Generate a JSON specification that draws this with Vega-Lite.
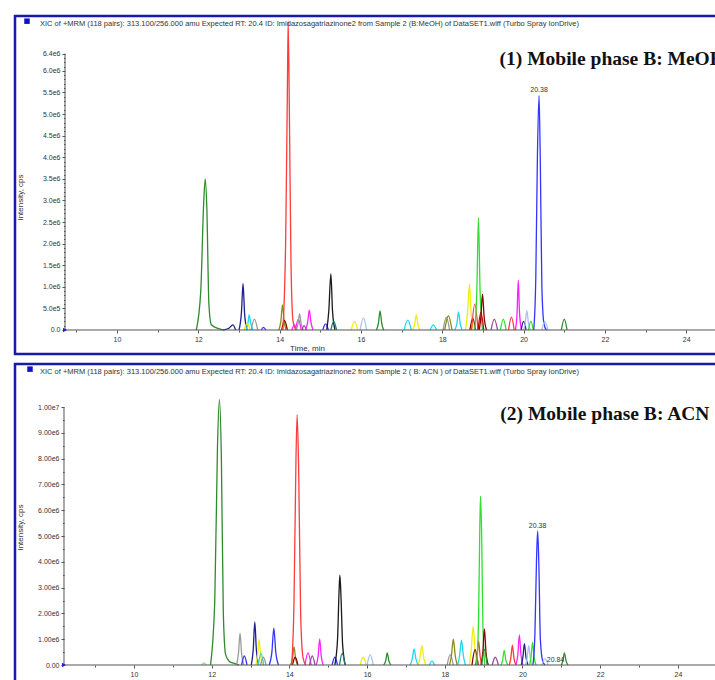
{
  "$schema": "https://vega.github.io/schema/vega-lite/v6.json",
  "background": "white",
  "padding": {"left": 13, "top": 14, "right": 0, "bottom": 0},
  "spacing": 6,
  "config": {
    "view": {"stroke": "#1a1aa8", "strokeWidth": 2.5},
    "axis": {"labelFont": "Liberation Sans", "labelFontSize": 7, "labelColor": "#333333", "titleFont": "Liberation Sans", "titleFontSize": 8, "titleFontWeight": "normal", "titleColor": "#333333", "tickColor": "#555555", "labelPadding": 2, "grid": false, "domain": false, "labelOverlap": false, "labelFlush": false},
    "title": {"font": "Liberation Sans", "fontSize": 7.5, "fontWeight": "normal", "color": "#333333", "anchor": "start", "frame": "group"}
  },
  "vconcat": [
    {
      "width": 720,
      "height": 338,
      "title": {"text": "XIC of +MRM (118 pairs): 313.100/256.000 amu Expected RT: 20.4 ID: Imidazosagatriazinone2 from Sample 2 (B:MeOH) of DataSET1.wiff (Turbo Spray IonDrive)", "offset": -11, "dx": 25},
      "encoding": {
        "x": {"field": "t", "type": "quantitative", "scale": {"domain": [7.491, 25.2], "nice": false, "zero": false},
          "axis": {"values": [9,10,11,12,13,14,15,16,17,18,19,20,21,22,23,24,25], "offset": -24, "title": "Time, min", "titleX": 292, "titlePadding": 2,
            "labelExpr": "datum.value % 2 == 0 && datum.value >= 10 ? datum.label : ''",
            "tickSize": {"condition": {"test": "datum.value % 2 == 0", "value": 3}, "value": 2}}},
        "y": {"field": "v", "type": "quantitative", "scale": {"domain": [-556000, 7270000], "nice": false, "zero": false},
          "axis": {"values": [0,100000,200000,300000,400000,500000,600000,700000,800000,900000,1000000,1100000,1200000,1300000,1400000,1500000,1600000,1700000,1800000,1900000,2000000,2100000,2200000,2300000,2400000,2500000,2600000,2700000,2800000,2900000,3000000,3100000,3200000,3300000,3400000,3500000,3600000,3700000,3800000,3900000,4000000,4100000,4200000,4300000,4400000,4500000,4600000,4700000,4800000,4900000,5000000,5100000,5200000,5300000,5400000,5500000,5600000,5700000,5800000,5900000,6000000,6100000,6200000,6300000,6400000],
            "offset": -50, "title": "Intensity, cps", "titleX": -41, "titleY": 181,
            "labelExpr": "datum.value == 0 ? '0.0' : datum.value == 6400000 ? '6.4e6' : datum.value % 500000 != 0 ? '' : datum.value < 1000000 ? '5.0e5' : format(datum.value / 1000000, '.1f') + 'e6'",
            "tickSize": {"condition": {"test": "datum.value % 500000 == 0 || datum.value == 6400000", "value": 3}, "value": 1.5}}}
      },
      "layer": [
        {
          "data": {"values": [
            {"k":"a01","c":"G","t":11.95,"v":0},{"k":"a01","c":"G","t":12.06,"v":900000},{"k":"a01","c":"G","t":12.13,"v":2900000},{"k":"a01","c":"G","t":12.17,"v":3500000},{"k":"a01","c":"G","t":12.21,"v":2800000},{"k":"a01","c":"G","t":12.26,"v":600000},{"k":"a01","c":"G","t":12.32,"v":120000},{"k":"a01","c":"G","t":12.5,"v":30000},{"k":"a01","c":"G","t":12.6,"v":0},
            {"k":"a02","c":"N","t":12.6,"v":0},{"k":"a02","c":"N","t":12.75,"v":40000},{"k":"a02","c":"N","t":12.85,"v":120000},{"k":"a02","c":"N","t":12.92,"v":0},
            {"k":"a03","c":"N","t":13.0,"v":0},{"k":"a03","c":"N","t":13.06,"v":400000},{"k":"a03","c":"N","t":13.1,"v":1070000},{"k":"a03","c":"N","t":13.14,"v":350000},{"k":"a03","c":"N","t":13.2,"v":0},
            {"k":"a04","c":"C","t":13.17,"v":0},{"k":"a04","c":"C","t":13.22,"v":150000},{"k":"a04","c":"C","t":13.25,"v":350000},{"k":"a04","c":"C","t":13.29,"v":150000},{"k":"a04","c":"C","t":13.34,"v":0},
            {"k":"a05","c":"Y","t":13.13,"v":0},{"k":"a05","c":"Y","t":13.2,"v":150000},{"k":"a05","c":"Y","t":13.27,"v":0},
            {"k":"a06","c":"Gy","t":13.3,"v":0},{"k":"a06","c":"Gy","t":13.38,"v":250000},{"k":"a06","c":"Gy","t":13.46,"v":0},
            {"k":"a07","c":"B","t":13.55,"v":0},{"k":"a07","c":"B","t":13.6,"v":60000},{"k":"a07","c":"B","t":13.66,"v":0},
            {"k":"a08","c":"O","t":13.98,"v":0},{"k":"a08","c":"O","t":14.03,"v":200000},{"k":"a08","c":"O","t":14.07,"v":580000},{"k":"a08","c":"O","t":14.11,"v":200000},{"k":"a08","c":"O","t":14.16,"v":0},
            {"k":"a09","c":"Br","t":14.05,"v":0},{"k":"a09","c":"Br","t":14.12,"v":220000},{"k":"a09","c":"Br","t":14.19,"v":0},
            {"k":"a10","c":"R","t":14.08,"v":0},{"k":"a10","c":"R","t":14.15,"v":2200000},{"k":"a10","c":"R","t":14.19,"v":5500000},{"k":"a10","c":"R","t":14.21,"v":7150000},{"k":"a10","c":"R","t":14.24,"v":5000000},{"k":"a10","c":"R","t":14.28,"v":1500000},{"k":"a10","c":"R","t":14.33,"v":200000},{"k":"a10","c":"R","t":14.4,"v":0},
            {"k":"a11","c":"M","t":14.3,"v":0},{"k":"a11","c":"M","t":14.36,"v":120000},{"k":"a11","c":"M","t":14.42,"v":0},
            {"k":"a12","c":"M","t":14.39,"v":0},{"k":"a12","c":"M","t":14.46,"v":250000},{"k":"a12","c":"M","t":14.53,"v":0},
            {"k":"a13","c":"Gy","t":14.41,"v":0},{"k":"a13","c":"Gy","t":14.45,"v":140000},{"k":"a13","c":"Gy","t":14.49,"v":370000},{"k":"a13","c":"Gy","t":14.53,"v":140000},{"k":"a13","c":"Gy","t":14.58,"v":0},
            {"k":"a14","c":"P","t":14.55,"v":0},{"k":"a14","c":"P","t":14.6,"v":100000},{"k":"a14","c":"P","t":14.66,"v":0},
            {"k":"a15","c":"M","t":14.64,"v":0},{"k":"a15","c":"M","t":14.69,"v":180000},{"k":"a15","c":"M","t":14.73,"v":460000},{"k":"a15","c":"M","t":14.77,"v":180000},{"k":"a15","c":"M","t":14.82,"v":0},
            {"k":"a16","c":"B","t":15.06,"v":0},{"k":"a16","c":"B","t":15.13,"v":140000},{"k":"a16","c":"B","t":15.2,"v":0},
            {"k":"a17","c":"K","t":15.16,"v":0},{"k":"a17","c":"K","t":15.21,"v":450000},{"k":"a17","c":"K","t":15.26,"v":1300000},{"k":"a17","c":"K","t":15.3,"v":450000},{"k":"a17","c":"K","t":15.36,"v":0},
            {"k":"a18","c":"T","t":15.26,"v":0},{"k":"a18","c":"T","t":15.33,"v":200000},{"k":"a18","c":"T","t":15.4,"v":0},
            {"k":"a19","c":"Y","t":15.76,"v":0},{"k":"a19","c":"Y","t":15.84,"v":200000},{"k":"a19","c":"Y","t":15.92,"v":0},
            {"k":"a20","c":"LB","t":15.98,"v":0},{"k":"a20","c":"LB","t":16.06,"v":280000},{"k":"a20","c":"LB","t":16.14,"v":0},
            {"k":"a21","c":"G","t":16.38,"v":0},{"k":"a21","c":"G","t":16.43,"v":160000},{"k":"a21","c":"G","t":16.47,"v":440000},{"k":"a21","c":"G","t":16.51,"v":160000},{"k":"a21","c":"G","t":16.56,"v":0},
            {"k":"a22","c":"C","t":17.06,"v":0},{"k":"a22","c":"C","t":17.15,"v":230000},{"k":"a22","c":"C","t":17.24,"v":0},
            {"k":"a23","c":"Y","t":17.27,"v":0},{"k":"a23","c":"Y","t":17.32,"v":130000},{"k":"a23","c":"Y","t":17.36,"v":350000},{"k":"a23","c":"Y","t":17.4,"v":130000},{"k":"a23","c":"Y","t":17.45,"v":0},
            {"k":"a24","c":"C","t":17.7,"v":0},{"k":"a24","c":"C","t":17.78,"v":120000},{"k":"a24","c":"C","t":17.86,"v":0},
            {"k":"a25","c":"Gy","t":18.02,"v":0},{"k":"a25","c":"Gy","t":18.1,"v":300000},{"k":"a25","c":"Gy","t":18.18,"v":0},
            {"k":"a26","c":"O","t":18.06,"v":0},{"k":"a26","c":"O","t":18.15,"v":330000},{"k":"a26","c":"O","t":18.24,"v":0},
            {"k":"a27","c":"C","t":18.31,"v":0},{"k":"a27","c":"C","t":18.36,"v":150000},{"k":"a27","c":"C","t":18.4,"v":420000},{"k":"a27","c":"C","t":18.44,"v":150000},{"k":"a27","c":"C","t":18.49,"v":0},
            {"k":"a28","c":"Y","t":18.57,"v":0},{"k":"a28","c":"Y","t":18.62,"v":380000},{"k":"a28","c":"Y","t":18.67,"v":1060000},{"k":"a28","c":"Y","t":18.71,"v":380000},{"k":"a28","c":"Y","t":18.77,"v":0},
            {"k":"a29","c":"Br","t":18.68,"v":0},{"k":"a29","c":"Br","t":18.75,"v":270000},{"k":"a29","c":"Br","t":18.82,"v":0},
            {"k":"a30","c":"R","t":18.72,"v":0},{"k":"a30","c":"R","t":18.8,"v":600000},{"k":"a30","c":"R","t":18.88,"v":0},
            {"k":"a31","c":"LG","t":18.8,"v":0},{"k":"a31","c":"LG","t":18.85,"v":900000},{"k":"a31","c":"LG","t":18.89,"v":2600000},{"k":"a31","c":"LG","t":18.93,"v":900000},{"k":"a31","c":"LG","t":18.99,"v":0},
            {"k":"a32","c":"DR","t":18.88,"v":0},{"k":"a32","c":"DR","t":18.95,"v":400000},{"k":"a32","c":"DR","t":19.02,"v":0},
            {"k":"a33","c":"Br","t":18.91,"v":0},{"k":"a33","c":"Br","t":18.95,"v":300000},{"k":"a33","c":"Br","t":18.99,"v":830000},{"k":"a33","c":"Br","t":19.03,"v":300000},{"k":"a33","c":"Br","t":19.09,"v":0},
            {"k":"a34","c":"P","t":19.2,"v":0},{"k":"a34","c":"P","t":19.28,"v":250000},{"k":"a34","c":"P","t":19.36,"v":0},
            {"k":"a35","c":"LG","t":19.43,"v":0},{"k":"a35","c":"LG","t":19.5,"v":250000},{"k":"a35","c":"LG","t":19.57,"v":0},
            {"k":"a36","c":"R","t":19.63,"v":0},{"k":"a36","c":"R","t":19.7,"v":300000},{"k":"a36","c":"R","t":19.77,"v":0},
            {"k":"a37","c":"M","t":19.8,"v":0},{"k":"a37","c":"M","t":19.84,"v":400000},{"k":"a37","c":"M","t":19.87,"v":1150000},{"k":"a37","c":"M","t":19.9,"v":400000},{"k":"a37","c":"M","t":19.95,"v":0},
            {"k":"a38","c":"N","t":19.94,"v":0},{"k":"a38","c":"N","t":20.0,"v":200000},{"k":"a38","c":"N","t":20.06,"v":0},
            {"k":"a39","c":"LB","t":20.0,"v":0},{"k":"a39","c":"LB","t":20.04,"v":160000},{"k":"a39","c":"LB","t":20.08,"v":450000},{"k":"a39","c":"LB","t":20.12,"v":160000},{"k":"a39","c":"LB","t":20.17,"v":0},
            {"k":"a40","c":"LG","t":20.12,"v":0},{"k":"a40","c":"LG","t":20.18,"v":200000},{"k":"a40","c":"LG","t":20.24,"v":0},
            {"k":"a41","c":"B","t":20.25,"v":0},{"k":"a41","c":"B","t":20.3,"v":1200000},{"k":"a41","c":"B","t":20.34,"v":4000000},{"k":"a41","c":"B","t":20.38,"v":5430000},{"k":"a41","c":"B","t":20.41,"v":4000000},{"k":"a41","c":"B","t":20.45,"v":1000000},{"k":"a41","c":"B","t":20.5,"v":150000},{"k":"a41","c":"B","t":20.56,"v":0},
            {"k":"a42","c":"LB","t":20.45,"v":0},{"k":"a42","c":"LB","t":20.52,"v":200000},{"k":"a42","c":"LB","t":20.6,"v":0},
            {"k":"a43","c":"G","t":20.93,"v":0},{"k":"a43","c":"G","t":21.0,"v":250000},{"k":"a43","c":"G","t":21.07,"v":0}
          ]},
          "mark": {"type": "line", "interpolate": "monotone", "strokeWidth": 1.3},
          "encoding": {
            "color": {"field": "c", "type": "nominal", "legend": null,
              "scale": {"domain": ["G","R","B","N","K","Gy","C","Y","M","O","Br","LG","P","LB","T","DR","FG"],
                "range": ["#2e8b2e","#ff3b3b","#3434ff","#1f1f8f","#1a1a1a","#9a9a9a","#20d8f0","#eeee10","#ff20ff","#8b8b1a","#8b0000","#30e030","#9a4aa0","#a8c4ec","#1a7a7a","#d00000","#a0d8a0"]}},
            "detail": {"field": "k"}
          }
        },
        {
          "data": {"values": [{"t": 8.721, "v": 0, "v2": 6400000}]},
          "mark": {"type": "rule", "color": "#555555", "strokeWidth": 1},
          "encoding": {"y2": {"field": "v2"}}
        },
        {
          "data": {"values": [{"t": 8.721, "t2": 25.2, "v": 0}]},
          "mark": {"type": "rule", "color": "#555555", "strokeWidth": 1},
          "encoding": {"x2": {"field": "t2"}}
        },
        {
          "data": {"values": [{"t": 8.721, "v": 0}]},
          "mark": {"type": "point", "shape": "triangle-right", "filled": true, "size": 22, "color": "#2020e0", "opacity": 1},
          "encoding": {}
        },
        {
          "data": {"values": [{"t": 7.786, "v": 7150000}]},
          "mark": {"type": "point", "shape": "square", "filled": true, "size": 30, "color": "#1010c8", "opacity": 1},
          "encoding": {}
        },
        {
          "data": {"values": [{"t": 20.38, "v": 5430000, "label": "20.38"}]},
          "mark": {"type": "text", "font": "Liberation Sans", "fontSize": 7, "color": "#333333", "baseline": "bottom", "dy": -2},
          "encoding": {"text": {"field": "label"}}
        },
        {
          "data": {"values": [{"t": 19.41, "v": 6130000, "label": "(1) Mobile phase B: MeOH"}]},
          "mark": {"type": "text", "font": "Liberation Serif", "fontWeight": "bold", "fontSize": 19.5, "color": "#111111", "align": "left", "baseline": "alphabetic"},
          "encoding": {"text": {"field": "label"}}
        }
      ]
    },
    {
      "width": 720,
      "height": 325,
      "title": {"text": "XIC of +MRM (118 pairs): 313.100/256.000 amu Expected RT: 20.4 ID: Imidazosagatriazinone2 from Sample 2 ( B: ACN ) of DataSET1.wiff (Turbo Spray IonDrive)", "offset": -11, "dx": 25},
      "encoding": {
        "x": {"field": "t", "type": "quantitative", "scale": {"domain": [6.938, 25.47], "nice": false, "zero": false},
          "axis": {"values": [9,10,11,12,13,14,15,16,17,18,19,20,21,22,23,24,25], "offset": -24, "title": "Time, min", "titleX": 314, "titlePadding": 2,
            "labelExpr": "datum.value % 2 == 0 && datum.value >= 10 ? datum.label : ''",
            "tickSize": {"condition": {"test": "datum.value % 2 == 0", "value": 3}, "value": 2}}},
        "y": {"field": "v", "type": "quantitative", "scale": {"domain": [-930000, 11670000], "nice": false, "zero": false},
          "axis": {"values": [0,500000,1000000,1500000,2000000,2500000,3000000,3500000,4000000,4500000,5000000,5500000,6000000,6500000,7000000,7500000,8000000,8500000,9000000,9500000,10000000],
            "offset": -49, "title": "Intensity, cps", "titleX": -40, "titleY": 163,
            "labelExpr": "datum.value == 0 ? '0.00' : datum.value % 1000000 != 0 ? '' : datum.value >= 10000000 ? '1.00e7' : format(datum.value / 1000000, '.2f') + 'e6'",
            "tickSize": {"condition": {"test": "datum.value % 1000000 == 0", "value": 3}, "value": 1.5}}}
      },
      "layer": [
        {
          "data": {"values": [
            {"k":"b01","c":"FG","t":11.74,"v":0},{"k":"b01","c":"FG","t":11.8,"v":80000},{"k":"b01","c":"FG","t":11.86,"v":0},
            {"k":"b02","c":"G","t":11.97,"v":0},{"k":"b02","c":"G","t":12.08,"v":2500000},{"k":"b02","c":"G","t":12.15,"v":8500000},{"k":"b02","c":"G","t":12.2,"v":10300000},{"k":"b02","c":"G","t":12.25,"v":8000000},{"k":"b02","c":"G","t":12.3,"v":2000000},{"k":"b02","c":"G","t":12.36,"v":400000},{"k":"b02","c":"G","t":12.45,"v":150000},{"k":"b02","c":"G","t":12.6,"v":50000},{"k":"b02","c":"G","t":12.7,"v":0},
            {"k":"b03","c":"Gy","t":12.64,"v":0},{"k":"b03","c":"Gy","t":12.69,"v":450000},{"k":"b03","c":"Gy","t":12.73,"v":1240000},{"k":"b03","c":"Gy","t":12.77,"v":450000},{"k":"b03","c":"Gy","t":12.83,"v":0},
            {"k":"b04","c":"B","t":12.77,"v":0},{"k":"b04","c":"B","t":12.84,"v":350000},{"k":"b04","c":"B","t":12.91,"v":0},
            {"k":"b05","c":"N","t":13.02,"v":0},{"k":"b05","c":"N","t":13.07,"v":600000},{"k":"b05","c":"N","t":13.11,"v":1670000},{"k":"b05","c":"N","t":13.15,"v":600000},{"k":"b05","c":"N","t":13.21,"v":0},
            {"k":"b06","c":"Y","t":13.14,"v":0},{"k":"b06","c":"Y","t":13.18,"v":350000},{"k":"b06","c":"Y","t":13.22,"v":1000000},{"k":"b06","c":"Y","t":13.26,"v":350000},{"k":"b06","c":"Y","t":13.31,"v":0},
            {"k":"b07","c":"C","t":13.2,"v":0},{"k":"b07","c":"C","t":13.27,"v":450000},{"k":"b07","c":"C","t":13.34,"v":0},
            {"k":"b08","c":"Gy","t":13.26,"v":0},{"k":"b08","c":"Gy","t":13.33,"v":300000},{"k":"b08","c":"Gy","t":13.4,"v":0},
            {"k":"b09","c":"B","t":13.48,"v":0},{"k":"b09","c":"B","t":13.55,"v":500000},{"k":"b09","c":"B","t":13.6,"v":1430000},{"k":"b09","c":"B","t":13.65,"v":500000},{"k":"b09","c":"B","t":13.72,"v":0},
            {"k":"b10","c":"O","t":14.03,"v":0},{"k":"b10","c":"O","t":14.08,"v":250000},{"k":"b10","c":"O","t":14.12,"v":700000},{"k":"b10","c":"O","t":14.16,"v":250000},{"k":"b10","c":"O","t":14.21,"v":0},
            {"k":"b11","c":"Br","t":14.08,"v":0},{"k":"b11","c":"Br","t":14.15,"v":300000},{"k":"b11","c":"Br","t":14.22,"v":0},
            {"k":"b12","c":"R","t":14.06,"v":0},{"k":"b12","c":"R","t":14.12,"v":2500000},{"k":"b12","c":"R","t":14.17,"v":8000000},{"k":"b12","c":"R","t":14.2,"v":9700000},{"k":"b12","c":"R","t":14.24,"v":7500000},{"k":"b12","c":"R","t":14.29,"v":2000000},{"k":"b12","c":"R","t":14.35,"v":300000},{"k":"b12","c":"R","t":14.42,"v":0},
            {"k":"b13","c":"M","t":14.4,"v":0},{"k":"b13","c":"M","t":14.48,"v":470000},{"k":"b13","c":"M","t":14.56,"v":0},
            {"k":"b14","c":"P","t":14.52,"v":0},{"k":"b14","c":"P","t":14.59,"v":350000},{"k":"b14","c":"P","t":14.66,"v":0},
            {"k":"b15","c":"M","t":14.69,"v":0},{"k":"b15","c":"M","t":14.74,"v":350000},{"k":"b15","c":"M","t":14.78,"v":1000000},{"k":"b15","c":"M","t":14.82,"v":350000},{"k":"b15","c":"M","t":14.87,"v":0},
            {"k":"b16","c":"B","t":15.1,"v":0},{"k":"b16","c":"B","t":15.17,"v":300000},{"k":"b16","c":"B","t":15.24,"v":0},
            {"k":"b17","c":"K","t":15.17,"v":0},{"k":"b17","c":"K","t":15.24,"v":1000000},{"k":"b17","c":"K","t":15.28,"v":2900000},{"k":"b17","c":"K","t":15.3,"v":3480000},{"k":"b17","c":"K","t":15.33,"v":2600000},{"k":"b17","c":"K","t":15.37,"v":800000},{"k":"b17","c":"K","t":15.44,"v":0},
            {"k":"b18","c":"T","t":15.29,"v":0},{"k":"b18","c":"T","t":15.36,"v":450000},{"k":"b18","c":"T","t":15.43,"v":0},
            {"k":"b19","c":"Y","t":15.82,"v":0},{"k":"b19","c":"Y","t":15.9,"v":300000},{"k":"b19","c":"Y","t":15.98,"v":0},
            {"k":"b20","c":"LB","t":16.0,"v":0},{"k":"b20","c":"LB","t":16.08,"v":400000},{"k":"b20","c":"LB","t":16.16,"v":0},
            {"k":"b21","c":"G","t":16.43,"v":0},{"k":"b21","c":"G","t":16.48,"v":170000},{"k":"b21","c":"G","t":16.52,"v":470000},{"k":"b21","c":"G","t":16.56,"v":170000},{"k":"b21","c":"G","t":16.61,"v":0},
            {"k":"b22","c":"C","t":17.11,"v":0},{"k":"b22","c":"C","t":17.16,"v":220000},{"k":"b22","c":"C","t":17.21,"v":620000},{"k":"b22","c":"C","t":17.26,"v":220000},{"k":"b22","c":"C","t":17.31,"v":0},
            {"k":"b23","c":"Y","t":17.31,"v":0},{"k":"b23","c":"Y","t":17.36,"v":270000},{"k":"b23","c":"Y","t":17.41,"v":750000},{"k":"b23","c":"Y","t":17.46,"v":270000},{"k":"b23","c":"Y","t":17.51,"v":0},
            {"k":"b24","c":"C","t":17.6,"v":0},{"k":"b24","c":"C","t":17.67,"v":150000},{"k":"b24","c":"C","t":17.74,"v":0},
            {"k":"b25","c":"Gy","t":18.06,"v":0},{"k":"b25","c":"Gy","t":18.14,"v":400000},{"k":"b25","c":"Gy","t":18.22,"v":0},
            {"k":"b26","c":"O","t":18.12,"v":0},{"k":"b26","c":"O","t":18.17,"v":350000},{"k":"b26","c":"O","t":18.22,"v":1000000},{"k":"b26","c":"O","t":18.27,"v":350000},{"k":"b26","c":"O","t":18.32,"v":0},
            {"k":"b27","c":"C","t":18.33,"v":0},{"k":"b27","c":"C","t":18.38,"v":350000},{"k":"b27","c":"C","t":18.43,"v":960000},{"k":"b27","c":"C","t":18.48,"v":350000},{"k":"b27","c":"C","t":18.53,"v":0},
            {"k":"b28","c":"Y","t":18.63,"v":0},{"k":"b28","c":"Y","t":18.68,"v":550000},{"k":"b28","c":"Y","t":18.73,"v":1500000},{"k":"b28","c":"Y","t":18.78,"v":550000},{"k":"b28","c":"Y","t":18.83,"v":0},
            {"k":"b29","c":"Br","t":18.7,"v":0},{"k":"b29","c":"Br","t":18.78,"v":600000},{"k":"b29","c":"Br","t":18.86,"v":0},
            {"k":"b30","c":"R","t":18.79,"v":0},{"k":"b30","c":"R","t":18.83,"v":330000},{"k":"b30","c":"R","t":18.87,"v":930000},{"k":"b30","c":"R","t":18.91,"v":330000},{"k":"b30","c":"R","t":18.96,"v":0},
            {"k":"b31","c":"LG","t":18.82,"v":0},{"k":"b31","c":"LG","t":18.87,"v":1800000},{"k":"b31","c":"LG","t":18.9,"v":5200000},{"k":"b31","c":"LG","t":18.92,"v":6550000},{"k":"b31","c":"LG","t":18.95,"v":5000000},{"k":"b31","c":"LG","t":18.98,"v":1600000},{"k":"b31","c":"LG","t":19.03,"v":0},
            {"k":"b32","c":"Br","t":18.93,"v":0},{"k":"b32","c":"Br","t":18.98,"v":500000},{"k":"b32","c":"Br","t":19.02,"v":1400000},{"k":"b32","c":"Br","t":19.06,"v":500000},{"k":"b32","c":"Br","t":19.12,"v":0},
            {"k":"b33","c":"G","t":18.95,"v":0},{"k":"b33","c":"G","t":19.02,"v":600000},{"k":"b33","c":"G","t":19.09,"v":0},
            {"k":"b34","c":"P","t":19.22,"v":0},{"k":"b34","c":"P","t":19.3,"v":300000},{"k":"b34","c":"P","t":19.38,"v":0},
            {"k":"b35","c":"LG","t":19.45,"v":0},{"k":"b35","c":"LG","t":19.49,"v":200000},{"k":"b35","c":"LG","t":19.53,"v":570000},{"k":"b35","c":"LG","t":19.57,"v":200000},{"k":"b35","c":"LG","t":19.62,"v":0},
            {"k":"b36","c":"R","t":19.66,"v":0},{"k":"b36","c":"R","t":19.7,"v":270000},{"k":"b36","c":"R","t":19.74,"v":770000},{"k":"b36","c":"R","t":19.78,"v":270000},{"k":"b36","c":"R","t":19.83,"v":0},
            {"k":"b37","c":"M","t":19.83,"v":0},{"k":"b37","c":"M","t":19.88,"v":400000},{"k":"b37","c":"M","t":19.92,"v":1170000},{"k":"b37","c":"M","t":19.96,"v":400000},{"k":"b37","c":"M","t":20.01,"v":0},
            {"k":"b38","c":"N","t":19.97,"v":0},{"k":"b38","c":"N","t":20.01,"v":300000},{"k":"b38","c":"N","t":20.05,"v":830000},{"k":"b38","c":"N","t":20.09,"v":300000},{"k":"b38","c":"N","t":20.14,"v":0},
            {"k":"b39","c":"LB","t":20.08,"v":0},{"k":"b39","c":"LB","t":20.12,"v":270000},{"k":"b39","c":"LB","t":20.16,"v":750000},{"k":"b39","c":"LB","t":20.2,"v":270000},{"k":"b39","c":"LB","t":20.25,"v":0},
            {"k":"b40","c":"LG","t":20.18,"v":0},{"k":"b40","c":"LG","t":20.22,"v":300000},{"k":"b40","c":"LG","t":20.26,"v":880000},{"k":"b40","c":"LG","t":20.3,"v":300000},{"k":"b40","c":"LG","t":20.35,"v":0},
            {"k":"b41","c":"B","t":20.27,"v":0},{"k":"b41","c":"B","t":20.32,"v":1200000},{"k":"b41","c":"B","t":20.36,"v":4000000},{"k":"b41","c":"B","t":20.39,"v":5200000},{"k":"b41","c":"B","t":20.42,"v":4000000},{"k":"b41","c":"B","t":20.46,"v":1000000},{"k":"b41","c":"B","t":20.52,"v":150000},{"k":"b41","c":"B","t":20.58,"v":0},
            {"k":"b42","c":"LB","t":20.5,"v":0},{"k":"b42","c":"LB","t":20.58,"v":250000},{"k":"b42","c":"LB","t":20.66,"v":0},
            {"k":"b43","c":"G","t":21.0,"v":0},{"k":"b43","c":"G","t":21.04,"v":170000},{"k":"b43","c":"G","t":21.08,"v":470000},{"k":"b43","c":"G","t":21.12,"v":170000},{"k":"b43","c":"G","t":21.17,"v":0}
          ]},
          "mark": {"type": "line", "interpolate": "monotone", "strokeWidth": 1.3},
          "encoding": {
            "color": {"field": "c", "type": "nominal", "legend": null,
              "scale": {"domain": ["G","R","B","N","K","Gy","C","Y","M","O","Br","LG","P","LB","T","DR","FG"],
                "range": ["#2e8b2e","#ff3b3b","#3434ff","#1f1f8f","#1a1a1a","#9a9a9a","#20d8f0","#eeee10","#ff20ff","#8b8b1a","#8b0000","#30e030","#9a4aa0","#a8c4ec","#1a7a7a","#d00000","#a0d8a0"]}},
            "detail": {"field": "k"}
          }
        },
        {
          "data": {"values": [{"t": 8.199, "v": 0, "v2": 10000000}]},
          "mark": {"type": "rule", "color": "#555555", "strokeWidth": 1},
          "encoding": {"y2": {"field": "v2"}}
        },
        {
          "data": {"values": [{"t": 8.199, "t2": 25.47, "v": 0}]},
          "mark": {"type": "rule", "color": "#555555", "strokeWidth": 1},
          "encoding": {"x2": {"field": "t2"}}
        },
        {
          "data": {"values": [{"t": 8.199, "v": 0}]},
          "mark": {"type": "point", "shape": "triangle-right", "filled": true, "size": 22, "color": "#2020e0", "opacity": 1},
          "encoding": {}
        },
        {
          "data": {"values": [{"t": 7.324, "v": 11470000}]},
          "mark": {"type": "point", "shape": "square", "filled": true, "size": 30, "color": "#1010c8", "opacity": 1},
          "encoding": {}
        },
        {
          "data": {"values": [{"t": 20.39, "v": 5200000, "label": "20.38"}, {"t": 20.85, "v": 0, "label": "20.84"}]},
          "mark": {"type": "text", "font": "Liberation Sans", "fontSize": 7, "color": "#333333", "baseline": "bottom", "dy": -2},
          "encoding": {"text": {"field": "label"}}
        },
        {
          "data": {"values": [{"t": 19.43, "v": 9500000, "label": "(2) Mobile phase B: ACN"}]},
          "mark": {"type": "text", "font": "Liberation Serif", "fontWeight": "bold", "fontSize": 19.5, "color": "#111111", "align": "left", "baseline": "alphabetic"},
          "encoding": {"text": {"field": "label"}}
        }
      ]
    }
  ]
}
